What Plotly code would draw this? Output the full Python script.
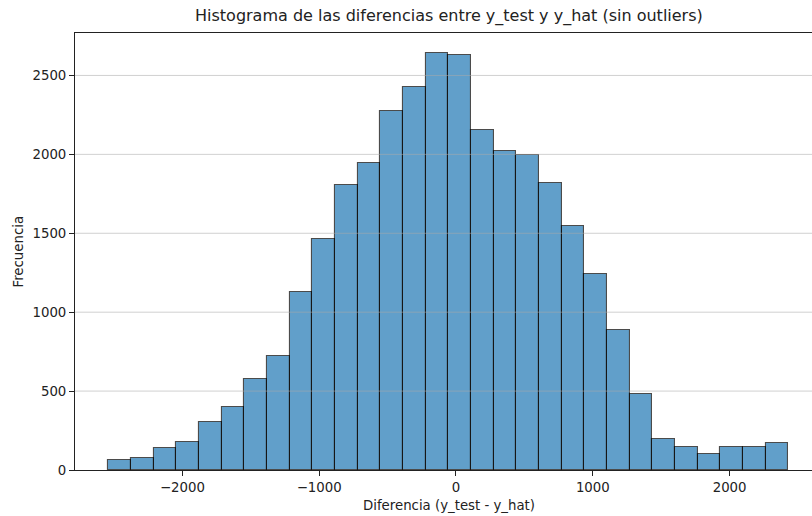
import plotly.graph_objects as go

bin_edges = [-2541, -2375, -2210, -2044, -1878, -1713, -1547, -1381, -1215, -1050,
             -884, -718, -553, -387, -221, -56, 110, 276, 442, 607,
             773, 939, 1104, 1270, 1436, 1601, 1767, 1933, 2098, 2264, 2429]
counts = [65, 76, 137, 177, 304, 399, 579, 722, 1130, 1463,
          1803, 1947, 2272, 2424, 2644, 2629, 2154, 2023, 1997, 1820,
          1548, 1242, 885, 484, 196, 146, 101, 146, 146, 169]
x_ticks = [-2000, -1000, 0, 1000, 2000]
y_ticks = [0, 500, 1000, 1500, 2000, 2500]

title = "Histograma de las diferencias entre y_test y y_hat (sin outliers)"
xlabel = "Diferencia (y_test - y_hat)"
ylabel = "Frecuencia"

centers = [(bin_edges[i] + bin_edges[i + 1]) / 2 for i in range(len(counts))]
widths = [bin_edges[i + 1] - bin_edges[i] for i in range(len(counts))]

W, H = 812, 516
L, R, T, B = 75, 0, 33, 46
font = "DejaVu Sans"
fs = 13.3

fig = go.Figure()
fig.add_trace(go.Bar(
    x=centers, y=counts, width=widths,
    marker=dict(color="#1f77b4", opacity=0.7,
                line=dict(color="black", width=1.1)),
    showlegend=False, hoverinfo="x+y",
))

shapes = []
for v in y_ticks[1:]:
    shapes.append(dict(type="line", xref="paper", yref="y", x0=0, x1=1, y0=v, y1=v,
                       line=dict(color="rgba(170,170,170,0.55)", width=1), layer="above"))

axis_center_px = (75 + 822) / 2
fig.update_layout(
    width=W, height=H,
    margin=dict(l=L, r=R, t=T, b=B, pad=0),
    paper_bgcolor="white", plot_bgcolor="white",
    bargap=0,
    font=dict(family=font, size=fs, color="#222"),
    shapes=shapes,
    annotations=[
        dict(text=title, xref="paper", yref="paper",
             x=(axis_center_px - L) / (W - L - R), y=1, yshift=5,
             xanchor="center", yanchor="bottom", showarrow=False,
             font=dict(family=font, size=16, color="#222")),
        dict(text=xlabel, xref="paper", yref="paper",
             x=(axis_center_px - L) / (W - L - R), y=0, yshift=-26,
             xanchor="center", yanchor="top", showarrow=False,
             font=dict(family=font, size=fs, color="#222")),
        dict(text=ylabel, xref="paper", yref="paper",
             x=0, xshift=-57, y=0.5, textangle=-90,
             xanchor="center", yanchor="middle", showarrow=False,
             font=dict(family=font, size=fs, color="#222")),
    ],
)
fig.update_xaxes(
    range=[-2785, (812 - 456) / 0.1368],
    tickvals=x_ticks, ticks="outside", ticklen=5, tickwidth=1, tickcolor="#222",
    showline=True, linecolor="#222", linewidth=1, mirror=True,
    showgrid=False, zeroline=False, tickfont=dict(size=fs, family=font, color="#222"),
)
fig.update_yaxes(
    range=[0, 2769],
    tickvals=y_ticks, ticks="outside", ticklen=5, tickwidth=1, tickcolor="#222",
    showline=True, linecolor="#222", linewidth=1,
    showgrid=False, zeroline=False, tickfont=dict(size=fs, family=font, color="#222"),
)

fig.write_html("out.html")
